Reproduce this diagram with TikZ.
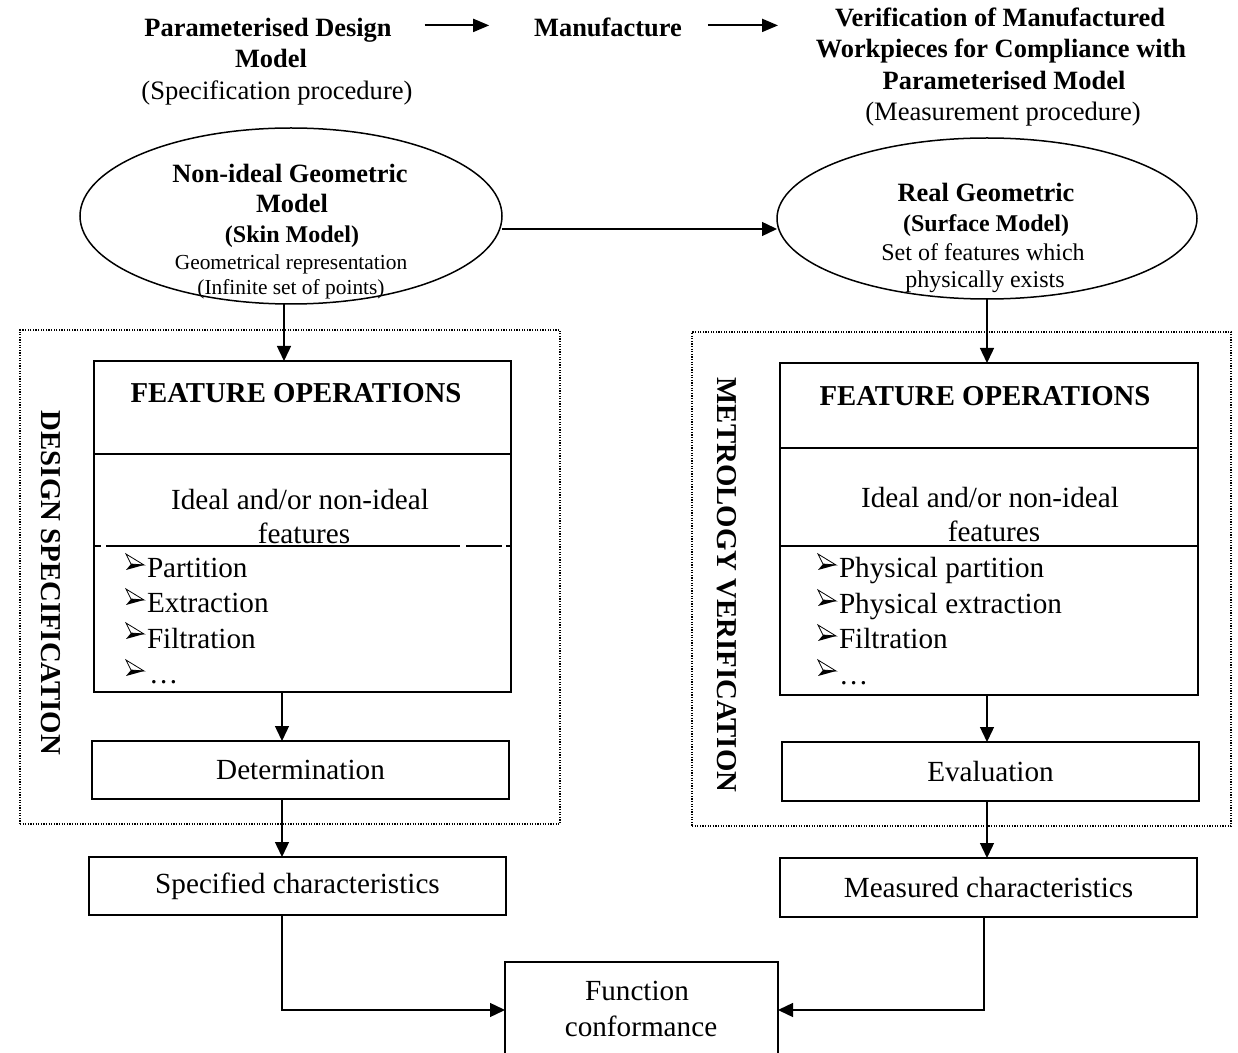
\documentclass[tikz,border=0pt]{standalone}
\usepackage{fontspec}
\setmainfont{Liberation Serif}
\usetikzlibrary{arrows.meta,shapes.geometric}

% one drawing unit = 0.5pt
\def\pxu{0.5pt}

\tikzset{
  every node/.style={inner sep=0pt, outer sep=0pt},
  hdr/.style={font=\fontsize{13.2}{15}\selectfont\bfseries, anchor=base},
  hdrsub/.style={font=\fontsize{13.3}{15}\selectfont, anchor=base},
  elbig/.style={font=\fontsize{13.2}{15}\selectfont\bfseries, anchor=base},
  elmid/.style={font=\fontsize{12}{14}\selectfont\bfseries, anchor=base},
  elsmall/.style={font=\fontsize{10.7}{12}\selectfont, anchor=base},
  elreg/.style={font=\fontsize{12}{14}\selectfont, anchor=base},
  fohead/.style={font=\fontsize{14.4}{17}\selectfont\bfseries, anchor=base},
  body/.style={font=\fontsize{14.6}{17}\selectfont, anchor=base},
  bul/.style={font=\fontsize{14.6}{17}\selectfont, anchor=base west},
  sidelab/.style={font=\fontsize{14.4}{17}\selectfont\bfseries},
  ell/.style={draw, ellipse, line width=0.75pt},
  frame/.style={draw, line width=1pt, anchor=north west, font=\fontsize{14.6}{17}\selectfont},
  dotframe/.style={draw, line width=0.6pt, dash pattern=on 0.6pt off 0.7pt, anchor=north west},
  divl/.style={line width=1pt},
  arr/.style={-{Triangle[length=7.5pt,width=7pt]}, line width=0.7pt},
  bigarr/.style={-{Triangle[length=8pt,width=6.5pt]}, line width=1pt},
  arrowbullet/.pic={
    \draw[line width=0.4pt, fill=white, line join=miter] (0,0) -- (18,11) -- (5,10) -- cycle;
    \fill (5,10) -- (18,11) -- (0,16) -- cycle;
  }
}

\begin{document}
\begin{tikzpicture}[x=0.5pt, y=-0.5pt]
\useasboundingbox (0,0) rectangle (1238,1053);
\clip (0,0) rectangle (1238,1053);

% ---------- header row ----------
\node[hdr] (hA1) at (268,37) {Parameterised Design};
\node[hdr] (hA2) at (271,68) {Model};
\node[hdrsub] (hA3) at (277,100) {(Specification procedure)};
\node[hdr] (hM) at (608,37) {Manufacture};
\node[hdr] (hV1) at (1000,27) {Verification of Manufactured};
\node[hdr] (hV2) at (1001,58) {Workpieces for Compliance with};
\node[hdr] (hV3) at (1004,90) {Parameterised Model};
\node[hdrsub] (hV4) at (1003,121) {(Measurement procedure)};

\coordinate (a1s) at ([xshift=16.5pt,yshift=3.5pt]hA1.mid east);
\coordinate (a1e) at ([xshift=-22.5pt]hM.mid west);
\coordinate (a2s) at ([xshift=13pt,yshift=3.5pt]hM.mid east);
\coordinate (a2e) at ([xshift=-28.5pt]hV1.mid west);
\draw[bigarr] (a1s) -- (a1s -| a1e);
\draw[bigarr] (a2s) -- (a2s -| a2e);

% ---------- geometric models ----------
\node[ell, minimum width=422*\pxu, minimum height=176*\pxu] (lell) at (291,216) {};
\node[ell, minimum width=420*\pxu, minimum height=161*\pxu] (rell) at (987,218.5) {};

\node[elbig] (le1) at (290,183) {Non-ideal Geometric};
\node[elbig] (le2) at (292,213) {Model};
\node[elmid] (le3) at (292,243) {(Skin Model)};
\node[elsmall] (le4) at (291,270) {Geometrical representation};
\node[elsmall] (le5) at (291,295) {(Infinite set of points)};

\node[elbig] (re1) at (986,202) {Real Geometric};
\node[elmid] (re2) at (986,232) {(Surface Model)};
\node[elreg] (re3) at (983,261) {Set of features which};
\node[elreg] (re4) at (985,288) {physically exists};

\coordinate (ms) at ([yshift=-6.5pt]lell.east);
\draw[arr] (ms) -- (ms -| rell.west);

% ---------- dotted process frames ----------
\node[dotframe, minimum width=540*\pxu, minimum height=494*\pxu] (dsf) at (20,330) {};
\node[dotframe, minimum width=539*\pxu, minimum height=494*\pxu] (mvf) at (692,332) {};

\node[sidelab, rotate=-90] (dsl) at (51,583) {DESIGN SPECIFICATION};
\node[sidelab, rotate=-90] (mvl) at (727,585) {METROLOGY VERIFICATION};

% ---------- feature operation boxes ----------
\node[frame, minimum width=417*\pxu, minimum height=331*\pxu] (fl) at (94,361) {};
\node[frame, minimum width=418*\pxu, minimum height=332*\pxu] (fr) at (780,363) {};

\draw[divl] (fl.west |- 0,454) -- (fl.east |- 0,454);
\foreach \a/\b in {94/101,106/460,466/502,506/511}
  \draw[divl] (\a,546) -- (\b,546);
\draw[divl] (fr.west |- 0,448) -- (fr.east |- 0,448);
\draw[divl] (fr.west |- 0,546) -- (fr.east |- 0,546);

\node[fohead] (flh) at (296,403) {FEATURE OPERATIONS};
\node[body] (fli1) at (300,510) {Ideal and/or non-ideal};
\node[body] (fli2) at (304,544) {features};
\pic at (126,554) {arrowbullet};
\pic at (126,589) {arrowbullet};
\pic at (126,623) {arrowbullet};
\pic at (126,660) {arrowbullet};
\node[bul] (flb1) at (147,578) {Partition};
\node[bul] (flb2) at (147,613) {Extraction};
\node[bul] (flb3) at (147,648) {Filtration};
\node[bul] (flb4) at (149,683) {…};

\node[fohead] (frh) at (985,406) {FEATURE OPERATIONS};
\node[body] (fri1) at (990,508) {Ideal and/or non-ideal};
\node[body] (fri2) at (994,542) {features};
\pic at (818,554) {arrowbullet};
\pic at (818,590) {arrowbullet};
\pic at (818,625) {arrowbullet};
\pic at (818,660) {arrowbullet};
\node[bul] (frb1) at (839,578) {Physical partition};
\node[bul] (frb2) at (839,614) {Physical extraction};
\node[bul] (frb3) at (839,649) {Filtration};
\node[bul] (frb4) at (839,684) {…};

% ---------- result boxes ----------
\node[frame, minimum width=417*\pxu, minimum height=58*\pxu] (det) at (92,741) {Determination};
\node[frame, minimum width=417*\pxu, minimum height=59*\pxu] (eva) at (782,742) {Evaluation};
\node[frame, minimum width=417*\pxu, minimum height=58*\pxu] (spec) at (89,857) {Specified characteristics};
\node[frame, minimum width=417*\pxu, minimum height=59*\pxu] (meas) at (780,858) {Measured characteristics};
\node[frame, minimum width=273*\pxu, minimum height=130*\pxu] (fc) at (505,962) {};
\node[body] (fct1) at (637,1000) {Function};
\node[body] (fct2) at (641,1036) {conformance};

% ---------- connectors ----------
\coordinate (lx) at (282,0);
\coordinate (lxt) at (284,0);
\coordinate (rx) at (987,0);
\coordinate (rxl) at (984,0);
\coordinate (jy) at (0,1010);

\draw[arr] (lell.south -| lxt) -- (fl.north -| lxt);
\draw[arr] (rell.south -| rx) -- (fr.north -| rx);
\draw[arr] (fl.south -| lx) -- (det.north -| lx);
\draw[arr] (det.south -| lx) -- (spec.north -| lx);
\draw[arr] (fr.south -| rx) -- (eva.north -| rx);
\draw[arr] (eva.south -| rx) -- (meas.north -| rx);
\draw[arr] (spec.south -| lx) |- (fc.west |- jy);
\draw[arr] (meas.south -| rxl) |- (fc.east |- jy);
\end{tikzpicture}
\end{document}
